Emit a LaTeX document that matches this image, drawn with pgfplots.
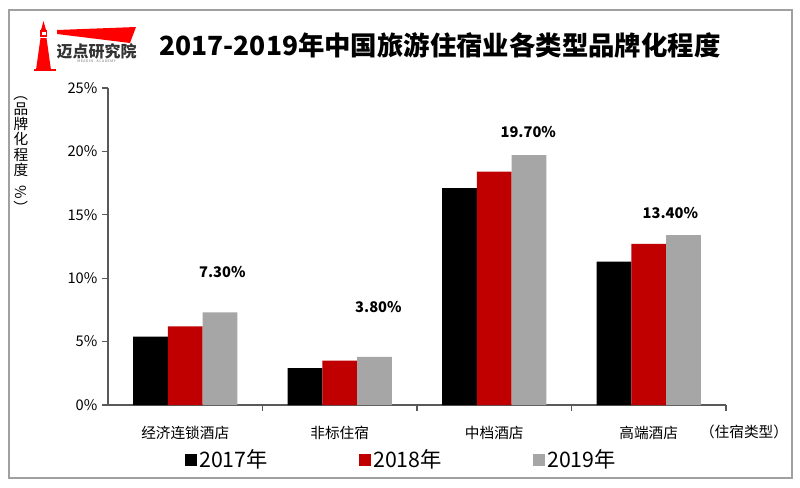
\documentclass[border=0pt]{standalone}
\usepackage{graphicx}
\usepackage{pgfplots}
\pgfplotsset{compat=1.18}
\usepackage{fontspec}
\setmainfont{Noto Sans CJK SC}
\definecolor{cred}{HTML}{C00000}
\definecolor{cgray}{HTML}{A6A6A6}
\definecolor{axgray}{HTML}{595959}
\definecolor{frame}{HTML}{A0A0A0}
\definecolor{logotxt}{HTML}{333333}
\begin{document}
\begin{tikzpicture}
\useasboundingbox (0,0) rectangle (600pt,365.25pt);
\fill[white] (0,0) rectangle (600pt,365.25pt);
\begin{scope}[x=0.75pt,y=-0.75pt,shift={(0pt,365.25pt)}]
  \draw[frame, line width=1.1pt] (9,10) rectangle (792,478);
  % logo
  \fill[red] (57,30) -- (136,27) -- (130,43) -- (57,34) -- cycle;
  \fill[red] (36,70) -- (40.5,38) -- (46.5,38) -- (51,70) -- cycle;
  \fill[red] (40,30) rectangle (47,37);
  \fill[red] (41,30) -- (43.5,21) -- (46,30) -- cycle;
  \fill[white] (41.5,32) rectangle (45.5,35);
  \fill[red] (34,68.5) rectangle (56,70.5);
  \node[text=logotxt, font=\fontsize{12}{12}\selectfont\bfseries, inner sep=0pt] at (96.5,51) {迈点研究院};
  \node[text=logotxt!70, font=\fontsize{2.6}{3}\selectfont, inner sep=0pt] at (96.5,61) {M\,E\,A\,D\,I\,N\quad A\,C\,A\,D\,E\,M\,Y};
  % title
  \node[font=\fontsize{19.8}{22}\selectfont\bfseries, inner sep=0pt] at (440,45) {2017-2019年中国旅游住宿业各类型品牌化程度};
  % y label
  \node[font=\fontsize{11}{11.4}\selectfont, align=center, inner sep=0pt] at (21,151)
    {\rotatebox{-90}{（}\\品\\牌\\化\\程\\度\\[-4pt]\rotatebox{-90}{\%}\\\rotatebox{-90}{）}};
  % x label
  \node[font=\fontsize{11}{12}\selectfont, inner sep=0pt] at (744,432) {（住宿类型）};
\end{scope}
\begin{axis}[
  at={(81pt,61.5pt)}, anchor=south west, scale only axis,
  width=463.5pt, height=237.75pt,
  ybar=0pt, bar width=26pt,
  xmin=-0.5, xmax=3.5, ymin=0, ymax=25,
  axis x line*=bottom, axis y line*=left,
  axis line style={axgray, line width=0.8pt, -},
  xtick={0,1,2,3},
  xticklabels={经济连锁酒店,非标住宿,中档酒店,高端酒店},
  major x tick style={draw=none},
  minor xtick={0.5,1.5,2.5,3.5},
  minor tick length=4.5pt,
  minor x tick style={axgray, line width=0.8pt},
  ytick={0,5,10,15,20,25},
  yticklabel={\pgfmathprintnumber{\tick}\%},
  /pgf/number format/assume math mode=true,
  tick align=outside, major tick length=4.5pt,
  ytick style={axgray, line width=0.8pt},
  ticklabel style={font=\fontsize{11}{12}\selectfont},
  xticklabel style={yshift=-8pt},
  clip=false,
  legend columns=3,
  legend style={at={(axis description cs:0.475,-0.173)}, anchor=center, draw=none, fill=none,
    font=\fontsize{16}{18}\selectfont,
    /tikz/every even column/.append style={column sep=66pt}},
  legend image code/.code={\fill[#1] (0pt,-4.5pt) rectangle (9pt,4.5pt);},
]
\addplot[fill=black, draw=none] coordinates {(0,5.4) (1,2.9) (2,17.1) (3,11.3)};
\addplot[fill=cred, draw=none] coordinates {(0,6.2) (1,3.5) (2,18.4) (3,12.7)};
\addplot[fill=cgray, draw=none] coordinates {(0,7.3) (1,3.8) (2,19.7) (3,13.4)};
\legend{2017年,2018年,2019年}
\node[font=\fontsize{11}{12}\selectfont\bfseries] at (axis cs:0.24,10.5) {7.30\%};
\node[font=\fontsize{11}{12}\selectfont\bfseries] at (axis cs:1.25,7.73) {3.80\%};
\node[font=\fontsize{11}{12}\selectfont\bfseries] at (axis cs:2.22,21.53) {19.70\%};
\node[font=\fontsize{11}{12}\selectfont\bfseries] at (axis cs:3.14,15.14) {13.40\%};
\end{axis}
\end{tikzpicture}
\end{document}
